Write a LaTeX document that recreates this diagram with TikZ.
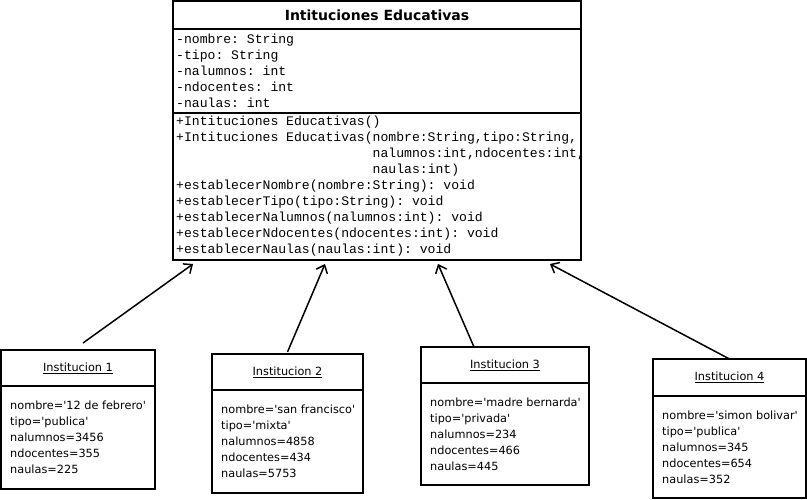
\documentclass[tikz,border=0pt]{standalone}
\usepackage{fontspec}
\setmainfont{DejaVu Sans}
\newfontfamily\monofuente{Liberation Mono}
\usetikzlibrary{arrows.meta,positioning}
\newcommand{\cq}{\textquotesingle}

\begin{document}
\begin{tikzpicture}[x=1pt,y=-1pt,
  caja/.style={draw,line width=1.5pt,outer sep=0pt,inner sep=0pt,anchor=north west},
  cab/.style={caja,font=\fontsize{11.3}{16}\selectfont},
  mono/.style={align=left,inner sep=0pt,anchor=west,
    font=\monofuente\fontsize{13.1}{16}\selectfont\frenchspacing},
  valores/.style={align=left,inner sep=0pt,anchor=west,font=\fontsize{11.3}{16}\selectfont},
  flecha/.style={-{Straight Barb[length=7pt,width=12pt]},line width=1.5pt}]
  \useasboundingbox (0,0) rectangle (807,499);
  % clase
  \node[caja,minimum width=408,minimum height=28,font=\bfseries\fontsize{14}{16}\selectfont]
    (titulo) at (173,1) {Intituciones Educativas};
  \node[caja,minimum width=408,minimum height=84,below=0pt of titulo] (atributos) {};
  \node[caja,minimum width=408,minimum height=147,below=0pt of atributos] (metodos) {};
  \node[mono] (atrtxt) at ([xshift=3pt]atributos.west)
    {-nombre: String\\-tipo: String\\-nalumnos: int\\-ndocentes: int\\-naulas: int};
  \node[mono] (mettxt) at ([xshift=3pt]metodos.west)
    {+Intituciones Educativas()\\
     +Intituciones Educativas(nombre:String,tipo:String,\\
     \hphantom{+Intituciones Educativas(}nalumnos:int,ndocentes:int,\\
     \hphantom{+Intituciones Educativas(}naulas:int)\\
     +establecerNombre(nombre:String): void\\
     +establecerTipo(tipo:String): void\\
     +establecerNalumnos(nalumnos:int): void\\
     +establecerNdocentes(ndocentes:int): void\\
     +establecerNaulas(naulas:int): void};
  % objetos
  \node[cab,minimum width=154,minimum height=36] (enc1) at (1,350) {\underline{Institucion 1}};
  \node[caja,minimum width=154,minimum height=103,below=0pt of enc1] (cuerpo1) {};
  \node[valores] (val1) at ([xshift=9pt]cuerpo1.west)
    {nombre=\cq12 de febrero\cq\\tipo=\cq publica\cq\\nalumnos=3456\\ndocentes=355\\naulas=225};
  \node[cab,minimum width=151,minimum height=36] (enc2) at (212,354) {\underline{Institucion 2}};
  \node[caja,minimum width=151,minimum height=103,below=0pt of enc2] (cuerpo2) {};
  \node[valores] (val2) at ([xshift=9pt]cuerpo2.west)
    {nombre=\cq san francisco\cq\\tipo=\cq mixta\cq\\nalumnos=4858\\ndocentes=434\\naulas=5753};
  \node[cab,minimum width=168,minimum height=36] (enc3) at (421,347) {\underline{Institucion 3}};
  \node[caja,minimum width=168,minimum height=102,below=0pt of enc3] (cuerpo3) {};
  \node[valores] (val3) at ([xshift=9pt]cuerpo3.west)
    {nombre=\cq madre bernarda\cq\\tipo=\cq privada\cq\\nalumnos=234\\ndocentes=466\\naulas=445};
  \node[cab,minimum width=153,minimum height=37] (enc4) at (653,359) {\underline{Institucion 4}};
  \node[caja,minimum width=153,minimum height=102,below=0pt of enc4] (cuerpo4) {};
  \node[valores] (val4) at ([xshift=9pt]cuerpo4.west)
    {nombre=\cq simon bolivar\cq\\tipo=\cq publica\cq\\nalumnos=345\\ndocentes=654\\naulas=352};
  % flechas
  \draw[flecha] ([xshift=5pt,yshift=7pt]enc1.north) -- ([xshift=-184pt,yshift=-4pt]metodos.south);
  \draw[flecha] ([yshift=2pt]enc2.north) -- ([xshift=-52pt,yshift=-4pt]metodos.south);
  \draw[flecha] ([xshift=-31pt]enc3.north) -- ([xshift=61pt,yshift=-4pt]metodos.south);
  \draw[flecha] (enc4.north) -- ([xshift=173pt,yshift=-4pt]metodos.south);
\end{tikzpicture}
\end{document}
